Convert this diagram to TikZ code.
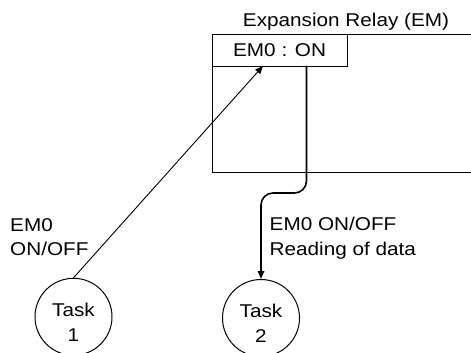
\documentclass[tikz,border=0pt]{standalone}
\usepackage{fontspec}
\setmainfont{Liberation Sans}[FakeStretch=1.12]
\usetikzlibrary{arrows.meta}
\begin{document}
\begin{tikzpicture}[x=1pt,y=-1pt,
  txt/.style={font=\fontsize{18.5}{24.5}\selectfont, inner sep=0pt},
  box/.style={draw, line width=1.2pt},
  task/.style={draw, circle, line width=1pt, minimum size=77pt, inner sep=0pt},
  thinarrow/.style={line width=0.9pt, -{Triangle[length=8pt,width=6.5pt]}},
  thickarrow/.style={line width=1.6pt, -{Triangle[length=8pt,width=6.5pt]}, rounded corners=12pt}]
\useasboundingbox (0,0) rectangle (471,353);
\clip (0,0) rectangle (471,353);
\node[box, minimum width=270pt, minimum height=138pt, anchor=north west, inner sep=0pt] (relay) at (211.5,34) {};
\node[box, txt, minimum width=135pt, minimum height=32pt, anchor=north west] (em) at (211.5,34) {EM0 : ON};
\node[txt, anchor=base] (title) at (346,27) {Expansion Relay (EM)};
\node[task, label={[txt, align=center, yshift=-5.5pt]center:Task\\1}] (t1) at (73.5,316.8) {};
\node[task, label={[txt, align=center, yshift=-5.5pt]center:Task\\2}] (t2) at (261,318) {};
\coordinate (emin) at (263,66);
\coordinate (emout) at (306.5,66);
\coordinate (bend) at (261,193);
\draw[thinarrow] (t1.north) -- (emin);
\draw[thickarrow] (emout) |- (bend) -- (t2.north);
\node[txt, align=left, anchor=base west] (l1) at (10,255.5) {EM0\\ON/OFF};
\node[txt, align=left, anchor=base west] (l2) at (269.5,255) {EM0 ON/OFF\\Reading of data};
\end{tikzpicture}
\end{document}
